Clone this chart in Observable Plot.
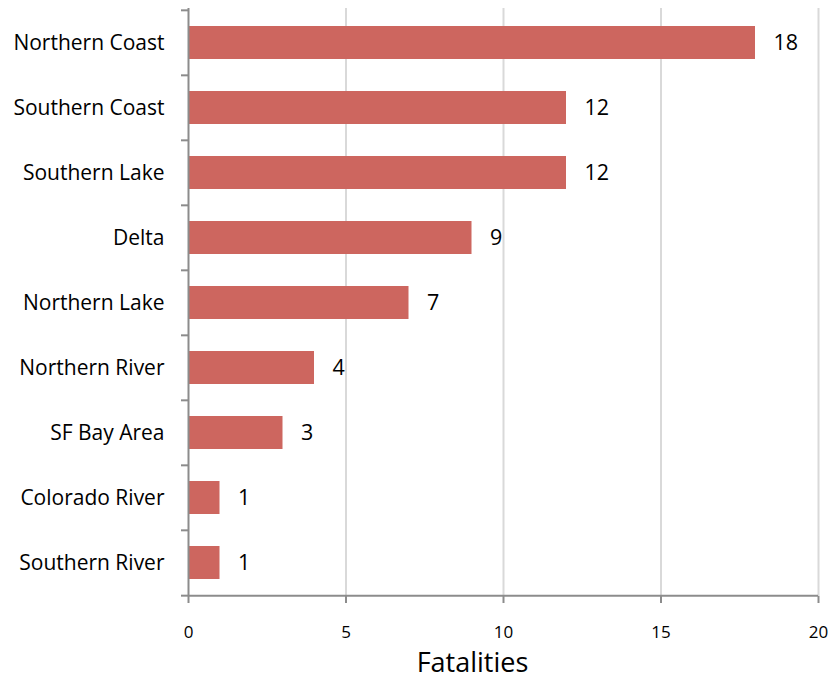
<!DOCTYPE html>
<html><head><meta charset="utf-8">
<script src="https://cdn.jsdelivr.net/npm/d3@7"></script>
<script src="https://cdn.jsdelivr.net/npm/@observablehq/plot@0.6"></script>
<style>body{margin:0;background:#fff;} svg{font-family:"Open Sans",sans-serif;}</style>
</head><body><div id="chart"></div>
<script>
const regions = ["Northern Coast","Southern Coast","Southern Lake","Delta","Northern Lake","Northern River","SF Bay Area","Colorado River","Southern River"];
const fatalities = [18,12,12,9,7,4,3,1,1];
const xTicks = [0,5,10,15,20];
const data = regions.map((r,i)=>({region:r, value:fatalities[i]}));

const W = 830, H = 681, mT = 8, mB = 85, mL = 188, mR = 12;
const step = (H - mT - mB) / regions.length;
const axisColor = "#8c8c8c";

const chart = Plot.plot({
  width: W, height: H,
  marginTop: mT, marginBottom: mB, marginLeft: mL, marginRight: mR,
  style: {fontFamily: "'Open Sans', sans-serif", background: "#fff"},
  x: {domain: [0, 20]},
  y: {domain: regions, paddingInner: 0.5, paddingOuter: 0.25},
  marks: [
    Plot.gridX({ticks: [5,10,15,20], stroke: "#d9d9d9", strokeOpacity: 1, strokeWidth: 2}),
    Plot.barX(data, {y: "region", x: "value", fill: "#cd665f"}),
    Plot.text(data, {y: "region", x: "value", text: d => String(d.value), textAnchor: "start", dx: 18, fontSize: 21.5, fill: "#000"}),
    Plot.ruleX([0], {stroke: axisColor, strokeWidth: 2}),
    Plot.ruleY([regions[regions.length-1]], {dy: step/2, x1: 0, x2: 20, stroke: axisColor, strokeWidth: 2}),
    Plot.axisY({tickSize: 0, tickPadding: 24, fontSize: 21, fill: "#000", label: null}),
    Plot.axisY({text: null, tickSize: 7, dy: -step/2, stroke: axisColor, strokeWidth: 2, label: null}),
    Plot.axisY({ticks: [regions[regions.length-1]], text: null, tickSize: 7, dy: step/2, stroke: axisColor, strokeWidth: 2, label: null}),
    Plot.axisX({ticks: xTicks, tickSize: 7, tickPadding: 22, fontSize: 17, fill: "#000", stroke: axisColor, strokeWidth: 2, label: null}),
    Plot.text(["Fatalities"], {frameAnchor: "bottom", dy: 67, dx: -31, fontSize: 27, fill: "#000", lineAnchor: "middle"})
  ]
});
document.getElementById("chart").append(chart);
</script></body></html>
